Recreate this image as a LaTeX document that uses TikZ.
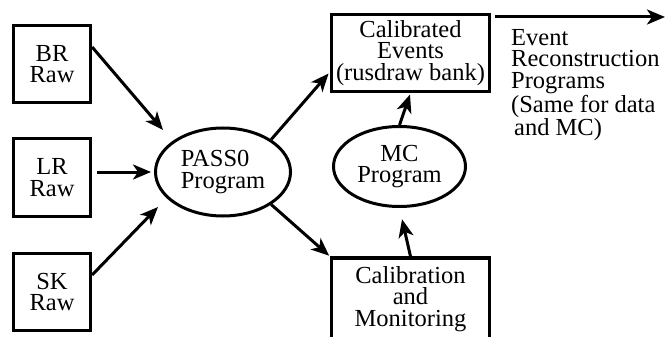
\documentclass[tikz,border=0pt]{standalone}
\usepackage{fontspec}
\setmainfont{Liberation Serif}
\usetikzlibrary{arrows.meta,shapes.geometric}
\begin{document}
\begin{tikzpicture}[x=1pt,y=-1pt,
  txt/.style={font=\fontsize{24.5}{21.7}\selectfont, align=center, inner sep=0pt},
  box/.style={txt, draw, line width=3.2pt, rectangle},
  ell/.style={txt, draw, line width=3pt, ellipse},
  arr/.style={line width=3pt, -{Stealth[length=18pt,width=15pt,inset=5pt]}}]
\useasboundingbox (0,0) rectangle (665,337);
\clip (0,0) rectangle (665,337);
% boxes
\node[box, minimum width=77pt, minimum height=77pt] (br) at (52,64) {BR\\Raw};
\node[box, minimum width=77pt, minimum height=78pt] (lr) at (52,177.5) {LR\\Raw};
\node[box, minimum width=77pt, minimum height=77pt] (sk) at (52,292) {SK\\Raw};
\node[ell, minimum width=135pt, minimum height=88pt, align=left] (p0) at (223,172) {PASS0\\Program};
\node[ell, minimum width=132pt, minimum height=80pt] (mc) at (399.5,166.5) {MC\\Program};
\node[box, minimum width=158pt, minimum height=77pt] (cald) at (410.5,53) {Calibrated\\Events\\(rusdraw bank)};
\node[box, minimum width=158pt, minimum height=82pt] (calib) at (410.5,299) {Calibration\\and\\Monitoring};
\node[txt, align=left, anchor=north west] (ev) at (511,29) {Event\\Reconstruction\\Programs\\(Same for data\\\hspace*{3pt}and MC)};
% free ends
\coordinate (t1) at (163,130);
\coordinate (t2) at (151,172);
\coordinate (t3) at (158,207);
\coordinate (out) at (665,17);
% connectors
\draw[arr] ([yshift=17pt]br.east) -- (t1);
\draw[arr] ([xshift=5pt,yshift=5.5pt]lr.east) -- (t2);
\draw[arr] ([yshift=17pt]sk.east) -- (t3);
\draw[arr, shorten >=2pt] (p0.34) -- ([yshift=-19pt]cald.west);
\draw[arr, shorten >=1pt] (p0.-34) -- (calib.north west);
\draw[arr, shorten >=1.5pt] (mc.north) -- (cald.south);
\draw[arr, shorten >=11.5pt] (calib.north) -- (mc.south);
\draw[arr] ([xshift=4pt,yshift=36pt]cald.east) -- (out);
\end{tikzpicture}
\end{document}
